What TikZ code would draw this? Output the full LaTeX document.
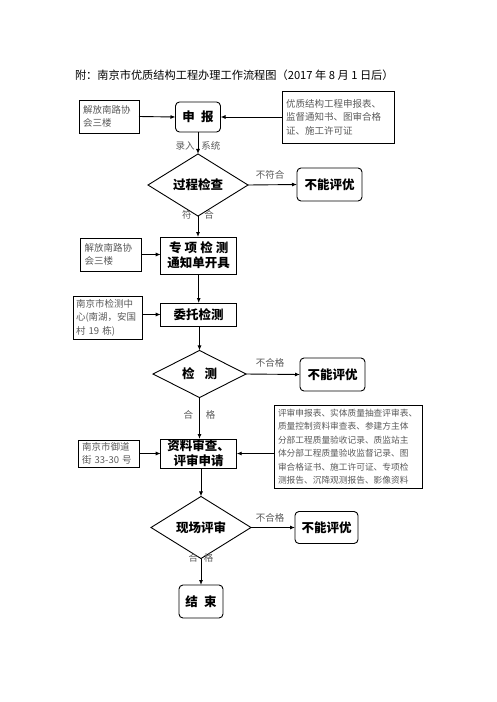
\documentclass[tikz,border=0pt]{standalone}
\usepackage{fontspec}
\setmainfont{Noto Sans CJK SC}
\usetikzlibrary{shapes.geometric,arrows.meta}
\definecolor{lbl}{gray}{0.35}
\tikzset{
  every node/.style={inner sep=0pt, outer sep=0pt},
  mainbox/.style={draw, line width=0.9pt, font=\fontsize{12.5}{15}\selectfont\bfseries, align=center},
  rbox/.style={mainbox, rounded corners=4pt},
  infobox/.style={draw, line width=0.9pt, text=lbl, font=\fontsize{9.5}{13.5}\selectfont, align=left},
  dia/.style={draw, line width=0.9pt, shape=diamond, font=\fontsize{12.5}{15}\selectfont\bfseries},
  lab/.style={text=lbl, font=\fontsize{9.5}{12}\selectfont},
  arr/.style={line width=0.9pt, -{Latex[length=5pt,width=4pt]}},
}
\begin{document}
\begin{tikzpicture}[x=1pt,y=-1pt]
\path[use as bounding box] (0,0) rectangle (496,702);
% title
\node[font=\fontsize{11.2}{13}\selectfont, anchor=west] (title) at (75,75) {附：南京市优质结构工程办理工作流程图（2017 年 8 月 1 日后）};
% row 1
\node[rbox, minimum width=45pt, minimum height=30pt] (sb) at (198,117) {申\hspace{0.5em}报};
\node[infobox, minimum width=60pt, minimum height=33pt, text width=52pt] (l1) at (109,116.5) {解放南路协\\会三楼};
\node[infobox, minimum width=112pt, minimum height=52pt, text width=104pt] (r1) at (338,117) {优质结构工程申报表、\\监督通知书、图审合格\\证、施工许可证};
\draw[arr] (l1.east) -- (sb.west);
\draw[arr] (r1.west) -- (sb.east);
\node[lab] (lr) at (198,145.5) {录入\hspace{7pt}系统};
% diamond 1
\node[dia, minimum width=100pt, minimum height=40pt] (d1) at (198,185) {过程检查};
\draw[arr] (sb.south) -- (d1.north);
\node[rbox, minimum width=65pt, minimum height=33pt] (n1) at (329.5,184.5) {不能评优};
\draw[arr] (d1.east) -- (n1.west);
\node[lab] (bf) at (270,175) {不符合};
\node[lab] (fh) at (198,215) {符\hspace{13pt}合};
% zhuanxiang
\node[mainbox, minimum width=76pt, minimum height=37pt] (zx) at (198.7,255.5) {专\hspace{0.25em}项\hspace{0.25em}检\hspace{0.25em}测\\通知单开具};
\draw[arr] (d1.south) -- (d1.south |- zx.north);
\node[infobox, minimum width=61pt, minimum height=33pt, text width=53pt] (l2) at (111,254.5) {解放南路协\\会三楼};
\draw[arr] (l2.east) -- (l2.east -| zx.west);
% weituo
\node[mainbox, minimum width=76pt, minimum height=23pt] (wt) at (198.7,314.5) {委托检测};
\draw[arr] (zx.south) -- (zx.south |- wt.north);
\node[infobox, minimum width=69pt, minimum height=43pt, text width=63pt] (l3) at (107.5,317.5) {南京市检测中\\心(南湖，安国\\村 19 栋)};
\draw[arr] (l3.east |- wt.west) -- (wt.west);
% diamond 2
\node[dia, minimum width=93pt, minimum height=38pt] (d2) at (199.5,374) {检\hspace{0.8em}测};
\draw[arr] (wt.south -| d2.north) -- (d2.north);
\node[rbox, minimum width=65pt, minimum height=33pt] (n2) at (332.5,374.5) {不能评优};
\draw[arr] (d2.east) -- (n2.west);
\node[lab] (bh2) at (270,363) {不合格};
\node[lab] (hg2) at (199.5,415) {合\hspace{13pt}格};
% ziliao
\node[mainbox, minimum width=76pt, minimum height=29pt] (zl) at (198.7,453.5) {资料审查、\\评审申请};
\draw[arr] (d2.south) -- (d2.south |- zl.north);
\node[infobox, minimum width=61pt, minimum height=27pt, text width=53pt] (l4) at (108.5,453.5) {南京市御道\\街 33-30 号};
\draw[arr] (l4.east |- zl.west) -- (zl.west);
\node[infobox, font=\fontsize{8.7}{13.5}\selectfont, minimum width=148pt, minimum height=83pt, text width=140pt] (r2) at (348,446.5) {评审申报表、实体质量抽查评审表、\\质量控制资料审查表、参建方主体\\分部工程质量验收记录、质监站主\\体分部工程质量验收监督记录、图\\审合格证书、施工许可证、专项检\\测报告、沉降观测报告、影像资料};
\draw[arr] (r2.west |- zl.east) -- (zl.east);
% diamond 3
\node[dia, minimum width=100pt, minimum height=39pt] (d3) at (201,527.5) {现场评审};
\draw[arr] (zl.south -| d3.north) -- (d3.north);
\node[rbox, minimum width=63pt, minimum height=32pt] (n3) at (326.5,527.5) {不能评优};
\draw[arr] (d3.east) -- (n3.west);
\node[lab] (bh3) at (270,518) {不合格};
\node[lab] (hg3) at (201,558) {合\hspace{6pt}格};
% end
\node[rbox, minimum width=44pt, minimum height=33pt] (js) at (201,601.5) {结\hspace{0.5em}束};
\draw[arr] (d3.south) -- (js.north);
\end{tikzpicture}
\end{document}
